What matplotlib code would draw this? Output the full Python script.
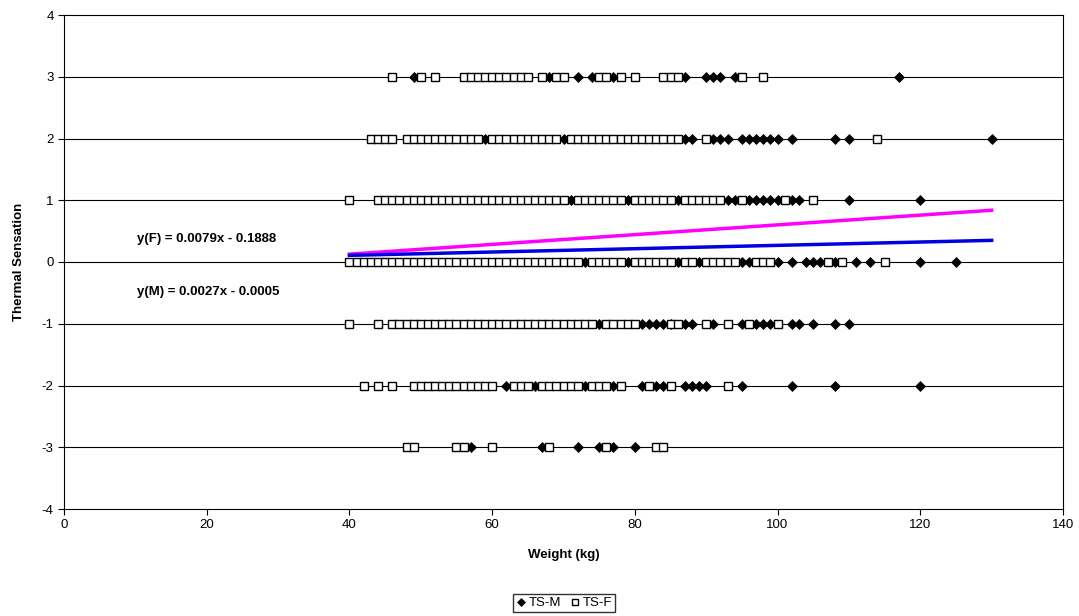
import numpy as np
import matplotlib
matplotlib.use('Agg')
import matplotlib.pyplot as plt

plt.rcParams['font.family'] = ['Liberation Sans', 'DejaVu Sans']
plt.rcParams['axes.unicode_minus'] = False

# weights (kg) at each thermal sensation level
# TS-M (male, filled diamonds)
m_3 = [49, 68, 72, 74, 77, 87, 90, 91, 92, 94, 117]
m_2 = [59, 70, 87, 88, 91, 92, 93, 95, 96, 97, 98, 99, 100, 102, 108, 110, 130]
m_1 = [71, 79, 86, 93, 94, 96, 97, 98, 99, 100, 102, 103, 110, 120]
m_0 = [73, 79, 86, 89, 95, 96, 100, 102, 104, 105, 106, 108, 111, 113, 120, 125]
m_n1 = [75, 81, 82, 83, 84, 85, 87, 88, 91, 95, 97, 98, 99, 102, 103, 105, 108, 110]
m_n2 = [62, 66, 73, 77, 81, 83, 84, 87, 88, 89, 90, 95, 102, 108, 120]
m_n3 = [57, 67, 72, 75, 77, 80]

# TS-F (female, open squares)
f_3 = [46, 50, 52, 56, 57, 58, 59, 60, 61, 62, 63, 64, 65, 67, 69, 70, 75, 76,
       78, 80, 84, 85, 86, 95, 98]
f_2 = [43, 44, 45, 46] + list(range(48, 59)) + list(range(60, 70)) + \
      list(range(71, 87)) + [90, 114]
f_1 = [40] + list(range(44, 71)) + list(range(72, 79)) + list(range(80, 86)) + \
      list(range(87, 93)) + [95, 101, 105]
f_0 = list(range(40, 73)) + list(range(74, 79)) + list(range(80, 86)) + \
      [87, 88] + list(range(90, 95)) + [97, 98, 99, 107, 109, 115]
f_n1 = [40, 44] + list(range(46, 75)) + list(range(76, 81)) + [85, 86, 90, 93, 96, 100]
f_n2 = [42, 44, 46] + list(range(49, 61)) + [63, 64, 65] + list(range(67, 73)) + \
       [74, 75, 76, 78, 82, 85, 93]
f_n3 = [48, 49, 55, 56, 60, 68, 76, 83, 84]

levels = [3, 2, 1, 0, -1, -2, -3]
male = [m_3, m_2, m_1, m_0, m_n1, m_n2, m_n3]
female = [f_3, f_2, f_1, f_0, f_n1, f_n2, f_n3]

# trendline coefficients as printed on the chart
fit_f = (0.0079, -0.1888)
fit_m = (0.0027, -0.0005)
fit_range = (40, 130)

mx = np.concatenate([np.array(w, float) for w in male])
my = np.concatenate([np.full(len(w), lv) for w, lv in zip(male, levels)])
fx = np.concatenate([np.array(w, float) for w in female])
fy = np.concatenate([np.full(len(w), lv) for w, lv in zip(female, levels)])

fig = plt.figure(figsize=(10.79, 6.16), dpi=100)
ax = fig.add_axes([64/1079, 1 - 509/616, (1063 - 64)/1079, (509 - 15)/616])

for lv in range(-3, 4):
    ax.axhline(lv, color='black', lw=0.8, zorder=1)

ax.plot(mx, my, 'D', ms=5, mfc='black', mec='black', mew=0.5, ls='none',
        label='TS-M', zorder=3)
ax.plot(fx, fy, 's', ms=5.5, mfc='white', mec='black', mew=1.0, ls='none',
        label='TS-F', zorder=4)

xl = np.array(fit_range, float)
ax.plot(xl, fit_f[0]*xl + fit_f[1], color='#FF00FF', lw=2.5, zorder=5)
ax.plot(xl, fit_m[0]*xl + fit_m[1], color='#0000E0', lw=2.5, zorder=5)

ax.text(10.2, 0.38, 'y(F) = 0.0079x - 0.1888', fontsize=9.5, fontweight='bold',
        va='center', ha='left')
ax.text(10.2, -0.49, 'y(M) = 0.0027x - 0.0005', fontsize=9.5, fontweight='bold',
        va='center', ha='left')

ax.set_xlim(0, 140)
ax.set_ylim(-4, 4)
ax.set_xticks(np.arange(0, 141, 20))
ax.set_yticks(np.arange(-4, 5, 1))
ax.tick_params(labelsize=9.5, length=4, width=0.8, color='black')
for s in ax.spines.values():
    s.set_color('black')
    s.set_linewidth(0.8)

ax.set_xlabel('Weight (kg)', fontsize=9.5, fontweight='bold', labelpad=13)
ax.set_ylabel('Thermal Sensation', fontsize=9.5, fontweight='bold', labelpad=12)

fig.legend(loc='center', bbox_to_anchor=(564/1079, 1 - 603/616), ncol=2,
           fontsize=9.5, frameon=True, fancybox=False, edgecolor='black',
           handlelength=0.8, handletextpad=0.2, columnspacing=0.6,
           borderpad=0.25, markerscale=0.9)

fig.savefig('out.png', dpi=100)
